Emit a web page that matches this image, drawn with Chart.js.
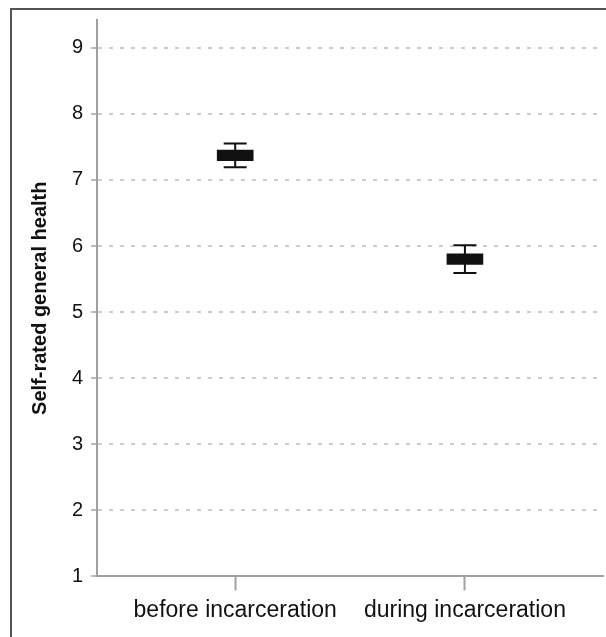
<!DOCTYPE html>
<html>
<head>
<meta charset="utf-8">
<script src="https://cdn.jsdelivr.net/npm/chart.js@4"></script>
<style>
  body { margin: 0; background: #fff; }
  #wrap { position: relative; width: 606px; height: 637px; }
  #frame { position: absolute; left: 10px; top: 8px; right: -4px; bottom: -4px;
           border-left: 2px solid #555; border-top: 2px solid #555; pointer-events: none; }
  canvas { position: absolute; left: 0; top: 0; }
</style>
</head>
<body>
<div id="wrap">
  <canvas id="c" width="606" height="637"></canvas>
  <div id="frame"></div>
</div>
<script>
// Groups and the values
const categories = ['before incarceration', 'during incarceration'];
const boxLow = [7.29, 5.72];
const boxHigh = [7.45, 5.88];
const ciLow = [7.19, 5.59];
const ciHigh = [7.55, 6.01];
const yTicks = [1, 2, 3, 4, 5, 6, 7, 8, 9];

const axis_color = '#a0a0a0';
const grid_color = '#cccccc';
const mark_color = '#111';
const font_family = 'Liberation Sans, Arial, sans-serif';

// whiskers with caps, drawn from the data through the scales
const whiskers = {
    id: 'whiskers',
    beforeDatasetsDraw(chart) {
        const ctx = chart.ctx;
        const xs = chart.scales.x, ys = chart.scales.y;
        ctx.save();
        ctx.strokeStyle = mark_color;
        ctx.lineWidth = 2;
        categories.forEach((c, i) => {
            const x = xs.getPixelForValue(i);
            const top = ys.getPixelForValue(ciHigh[i]);
            const bot = ys.getPixelForValue(ciLow[i]);
            ctx.beginPath();
            ctx.moveTo(x, top); ctx.lineTo(x, bot);
            ctx.moveTo(x - 11.5, top); ctx.lineTo(x + 11.5, top);
            ctx.moveTo(x - 11.5, bot); ctx.lineTo(x + 11.5, bot);
            ctx.stroke();
        });
        ctx.restore();
    }
};

const data = {
    datasets: [{
        type: 'bar',
        data: categories.map((c, i) => ({ x: i, y: [boxLow[i], boxHigh[i]] })),
        backgroundColor: mark_color,
        borderWidth: 0,
        barThickness: 36
    }]
};

const options = {
    animation: false,
    responsive: false,
    layout: { padding: { top: 18, right: 3, left: 24, bottom: 7 } },
    plugins: { legend: { display: false }, tooltip: { enabled: false } },
    scales: {
        x: {
            type: 'linear',
            offset: false,
            min: -0.601,
            max: 1.601,
            afterBuildTicks: axis => { axis.ticks = categories.map((c, i) => ({ value: i })); },
            ticks: {
                callback: v => categories[v],
                font: { family: font_family, size: 23 },
                color: '#111',
                padding: 6,
                maxRotation: 0,
                autoSkip: false
            },
            grid: { offset: false, drawOnChartArea: false, tickLength: 14, tickColor: axis_color, tickWidth: 2 },
            border: { color: axis_color, width: 2 }
        },
        y: {
            min: 1,
            max: 9.42,
            afterBuildTicks: axis => { axis.ticks = yTicks.map(v => ({ value: v })); },
            ticks: {
                font: { family: font_family, size: 20 },
                color: '#111',
                padding: 8
            },
            grid: {
                color: grid_color,
                lineWidth: 2,
                tickLength: 6,
                tickColor: axis_color,
                tickBorderDash: [],
                tickWidth: 1.5
            },
            border: { color: axis_color, width: 2, dash: [4, 7] },
            title: {
                display: true,
                text: 'Self-rated general health',
                font: { family: font_family, size: 20, weight: 'bold' },
                color: '#111',
                padding: { top: 4, bottom: 12 }
            }
        }
    }
};

new Chart(document.getElementById('c'), { type: 'bar', data: data, options: options, plugins: [whiskers] });
</script>
</body>
</html>
